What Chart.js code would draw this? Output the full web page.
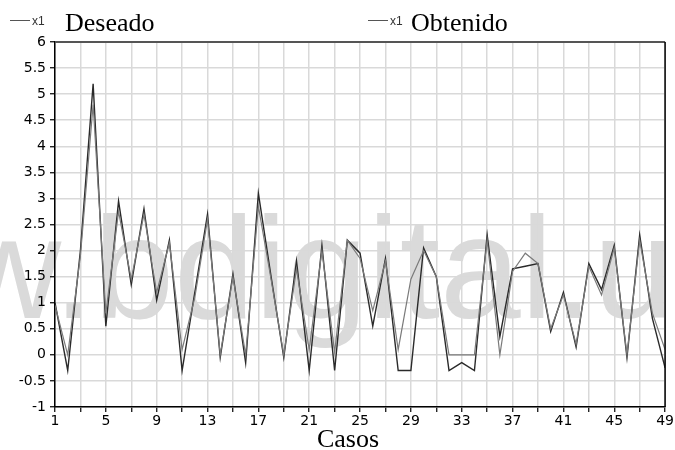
<!DOCTYPE html>
<html>
<head>
<meta charset="utf-8">
<script src="https://cdn.jsdelivr.net/npm/chart.js@4.4.0/dist/chart.umd.min.js"></script>
<style>
  body { margin: 0; background: #fff; }
  #grafico { display: block; }
</style>
</head>
<body>
<canvas id="grafico" width="675" height="450"></canvas>
<script>
// valores
var casos = [1,2,3,4,5,6,7,8,9,10,11,12,13,14,15,16,17,18,19,20,21,22,23,24,25,
             26,27,28,29,30,31,32,33,34,35,36,37,38,39,40,41,42,43,44,45,46,47,48,49];
var deseado = [1.0,-0.3,2.0,5.2,0.55,2.95,1.35,2.8,1.05,2.2,-0.3,1.2,2.7,-0.05,1.55,-0.15,3.1,1.5,-0.05,1.8,
               -0.3,2.1,-0.3,2.2,1.95,0.55,1.85,-0.3,-0.3,2.05,1.5,-0.3,-0.15,-0.3,2.3,0.35,1.65,1.7,1.75,0.45,
               1.2,0.15,1.75,1.25,2.1,-0.05,2.3,0.7,-0.25];
var obtenido = [0.95,0.0,1.9,4.8,0.8,2.75,1.45,2.7,1.2,2.15,0.1,1.1,2.6,0.0,1.5,0.0,2.85,1.45,0.0,1.65,
                0.1,2.0,0.05,2.2,1.85,0.85,1.8,0.1,1.45,2.0,1.5,0.0,0.0,0.0,2.2,0.0,1.6,1.95,1.75,0.5,
                1.15,0.2,1.7,1.15,2.05,0.0,2.2,0.8,0.1];
var etiquetasX = [1,5,9,13,17,21,25,29,33,37,41,45,49];

function puntos(valores) {
    return casos.map(function(c, i) { return {x: c, y: valores[i]}; });
}

// marca de agua, leyenda, borde y titulo del eje
var extras = {
    id: 'extras',
    beforeDraw: function(chart) {
        var ctx = chart.ctx;
        ctx.save();
        ctx.fillStyle = '#dadada';
        ctx.font = '145px "Liberation Sans", Arial, sans-serif';
        ctx.textBaseline = 'alphabetic';
        ctx.fillText('www.bdigital.ula.ve', -253, 318);
        ctx.restore();
    },
    afterDraw: function(chart) {
        var ctx = chart.ctx;
        var a = chart.chartArea;
        ctx.save();
        ctx.strokeStyle = '#555';
        ctx.lineWidth = 2;
        ctx.beginPath();
        ctx.moveTo(a.left, a.top);
        ctx.lineTo(a.right, a.top);
        ctx.stroke();
        ctx.strokeStyle = '#000';
        ctx.lineWidth = 1.5;
        ctx.beginPath();
        ctx.moveTo(a.right, a.top);
        ctx.lineTo(a.right, a.bottom);
        ctx.stroke();

        var leyenda = [[10, 'Deseado', 65], [368, 'Obtenido', 411]];
        leyenda.forEach(function(l) {
            ctx.strokeStyle = '#555';
            ctx.lineWidth = 1;
            ctx.beginPath();
            ctx.moveTo(l[0], 20.5);
            ctx.lineTo(l[0] + 20, 20.5);
            ctx.stroke();
            ctx.fillStyle = '#333';
            ctx.font = '12px "Liberation Sans", Arial, sans-serif';
            ctx.textBaseline = 'alphabetic';
            ctx.textAlign = 'left';
            ctx.fillText('x1', l[0] + 22, 25);
            ctx.fillStyle = '#000';
            ctx.font = '26px "Liberation Serif", "Times New Roman", serif';
            ctx.fillText(l[1], l[2], 31);
        });

        ctx.font = '26px "Liberation Serif", "Times New Roman", serif';
        ctx.textAlign = 'center';
        ctx.fillText('Casos', 348, 447);
        ctx.restore();
    }
};

var ctx = document.getElementById('grafico');
var chart = new Chart(ctx, {
    type: 'line',
    data: {
        datasets: [{
            label: 'Obtenido',
            data: puntos(obtenido),
            borderColor: '#7a7a7a',
            borderWidth: 1.2,
            pointRadius: 0,
            tension: 0
        }, {
            label: 'Deseado',
            data: puntos(deseado),
            borderColor: '#2a2a2a',
            borderWidth: 1.4,
            pointRadius: 0,
            tension: 0
        }]
    },
    options: {
        responsive: false,
        animation: false,
        devicePixelRatio: 1,
        layout: { padding: { top: 42, right: 7, left: 0, bottom: 0 } },
        plugins: {
            legend: { display: false },
            tooltip: { enabled: false }
        },
        scales: {
            x: {
                type: 'linear',
                min: 1,
                max: 49,
                afterFit: function(s) { s.height = 43; },
                grid: { color: '#d9d9d9', lineWidth: 1.5, tickLength: 5, tickColor: '#000', tickWidth: 1.2 },
                border: { color: '#000', width: 1.5 },
                ticks: {
                    stepSize: 2,
                    autoSkip: false,
                    maxRotation: 0,
                    padding: 1,
                    color: '#000',
                    font: { family: '"DejaVu Sans", sans-serif', size: 14 },
                    callback: function(v) { return etiquetasX.indexOf(v) >= 0 ? String(v) : ''; }
                }
            },
            y: {
                min: -1,
                max: 6,
                afterFit: function(s) { s.width = 55; },
                grid: { color: '#d9d9d9', lineWidth: 1.5, tickLength: 5, tickColor: '#000', tickWidth: 1.2 },
                border: { color: '#000', width: 1.5 },
                ticks: {
                    stepSize: 0.5,
                    padding: 4,
                    color: '#000',
                    font: { family: '"DejaVu Sans", sans-serif', size: 14 },
                    callback: function(v) { return String(Math.round(v * 10) / 10); }
                }
            }
        }
    },
    plugins: [extras]
});
</script>
</body>
</html>
